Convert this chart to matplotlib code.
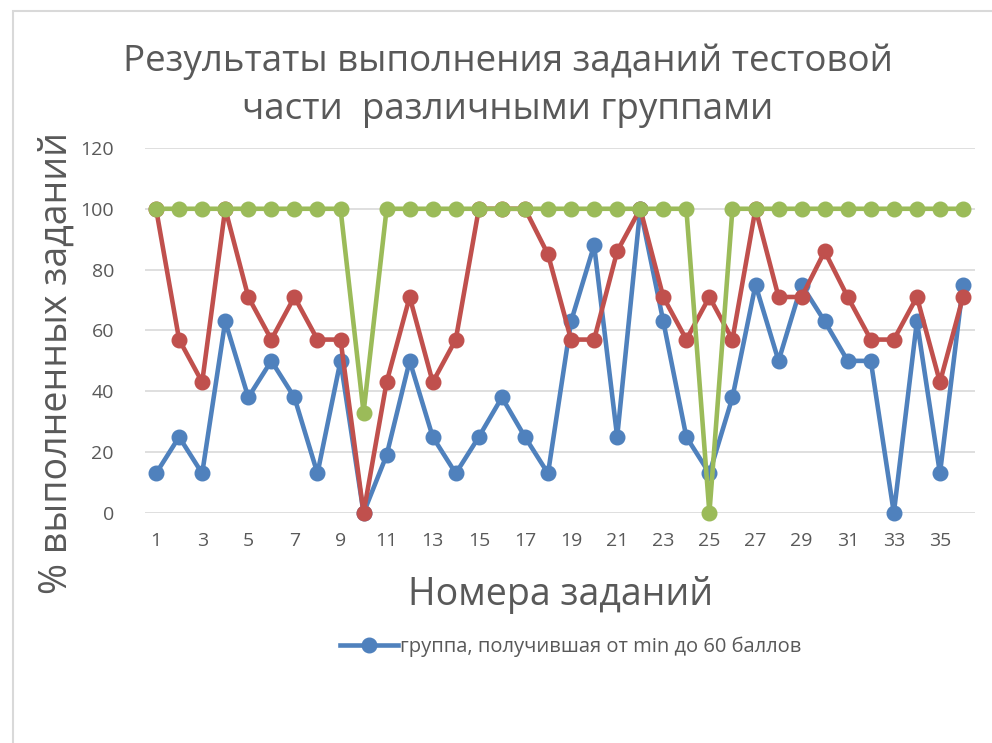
import numpy as np
import matplotlib.pyplot as plt
from matplotlib.patches import Rectangle
from matplotlib.lines import Line2D

plt.rcParams['font.family'] = ['Open Sans', 'DejaVu Sans']

# номера заданий и проценты выполнения по группам
tasks = list(range(1, 37))
low_group = [13, 25, 13, 63, 38, 50, 38, 13, 50, 0, 19, 50, 25, 13, 25, 38, 25, 13,
             63, 88, 25, 100, 63, 25, 13, 38, 75, 50, 75, 63, 50, 50, 0, 63, 13, 75]
mid_group = [100, 57, 43, 100, 71, 57, 71, 57, 57, 0, 43, 71, 43, 57, 100, 100, 100, 85,
             57, 57, 86, 100, 71, 57, 71, 57, 100, 71, 71, 86, 71, 57, 57, 71, 43, 71]
high_group = [100, 100, 100, 100, 100, 100, 100, 100, 100, 33, 100, 100, 100, 100, 100, 100, 100, 100,
              100, 100, 100, 100, 100, 100, 0, 100, 100, 100, 100, 100, 100, 100, 100, 100, 100, 100]
legend_label = 'группа, получившая от min до 60 баллов'

fig = plt.figure(figsize=(9.92, 7.43), dpi=100)
ax = fig.add_axes([0.1457, 0.3096, 0.8367, 0.4913])

# рамка вокруг диаграммы
fig.patches.append(Rectangle((13/992, -0.1), 1.2, 1 - 11/743 + 0.1, transform=fig.transFigure,
                             fill=False, edgecolor='#d9d9d9', linewidth=1.5))

lw, ms = 3.3, 10.5
ax.plot(tasks, low_group, color='#4F81BD', lw=lw, marker='o', ms=ms, clip_on=False, zorder=3)
ax.plot(tasks, mid_group, color='#C0504D', lw=lw, marker='o', ms=ms, clip_on=False, zorder=4)
ax.plot(tasks, high_group, color='#9BBB59', lw=lw, marker='o', ms=ms, clip_on=False, zorder=5)

ax.set_xlim(0.5, 36.5)
ax.set_ylim(0, 120)
ax.set_yticks(range(0, 121, 20))
ax.set_xticks(tasks[::2])
ax.yaxis.grid(True, color='#d9d9d9', lw=1.2)
ax.set_axisbelow(True)
for s in ax.spines.values():
    s.set_visible(False)
ax.tick_params(length=0, labelsize=14, colors='#595959')
ax.tick_params(axis='x', pad=14)
ax.tick_params(axis='y', pad=22)

fig.text(0.512, 0.917, 'Результаты выполнения заданий тестовой', ha='center', va='center',
         fontsize=26.5, color='#595959')
fig.text(0.512, 0.852, 'части  различными группами', ha='center', va='center',
         fontsize=26.5, color='#595959')
fig.text(0.057, 0.512, '% выполненных заданий', rotation=90, ha='center', va='center',
         fontsize=27, color='#595959')
fig.text(0.565, 0.199, 'Номера заданий', ha='center', va='center', fontsize=27, color='#595959')

handle = Line2D([], [], color='#4F81BD', lw=lw, marker='o', ms=ms)
fig.legend([handle], [legend_label], loc='center', bbox_to_anchor=(0.575, 0.129),
           frameon=False, fontsize=14.5, labelcolor='#595959', handlelength=2.9, handletextpad=0.1)

fig.savefig('out.png', dpi=100)
